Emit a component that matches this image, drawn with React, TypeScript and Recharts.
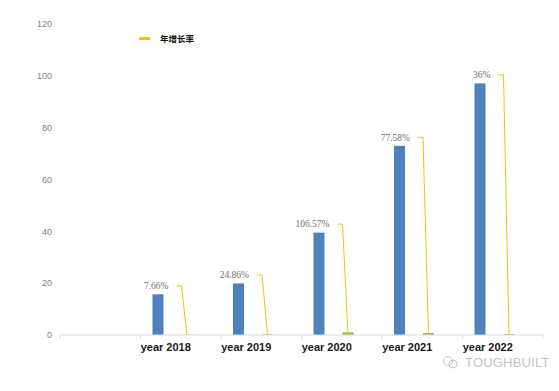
import React from "react";
import { BarChart, Bar, XAxis, YAxis, LabelList } from "recharts";

const categories = ["", "year 2018", "year 2019", "year 2020", "year 2021", "year 2022"];
const salesValues: (number | null)[] = [null, 15.7, 19.9, 39.5, 73.0, 97.1];
const growthValues: (number | null)[] = [null, 0.0766, 0.2486, 1.0657, 0.7758, 0.36];
const growthLabels: string[] = ["", "7.66%", "24.86%", "106.57%", "77.58%", "36%"];
const yTicks = [0, 20, 40, 60, 80, 100, 120];
const legendLabel = "年增长率";

const data = categories.map((c, i) => ({
  name: c,
  sales: salesValues[i],
  growth: growthValues[i],
  label: growthLabels[i],
}));

const W = 559;
const H = 391;
const MARGIN = { top: 24, right: 16, bottom: 26, left: 0 };
const Y_W = 60;
const BAND = (W - MARGIN.left - MARGIN.right - Y_W) / categories.length;
const BAR_SIZE = 11;
const BAR_GAP = 18;
const SHIFT = -8;

const BLUE = "#4f81bd";
const GREEN = "#9bbb59";
const YELLOW = "#f2c211";

const ShiftedBar = (props: any) => {
  const { x, y, width, height, fill } = props;
  if (x == null || height == null || isNaN(height)) return null;
  return <rect x={x + SHIFT} y={y} width={width} height={Math.max(height, 0)} fill={fill} />;
};

const GrowthLabel = (props: any) => {
  const { x, y, width, height, value } = props;
  const text = value;
  if (!text || x == null) return null;
  const bx = x + SHIFT;
  const right = bx + width;
  const ly = y - 8.5;
  const base = y + height;
  const greenCenter = right + BAR_GAP + BAR_SIZE / 2;
  return (
    <g>
      <text
        x={right + 5}
        y={ly}
        dy={3.3}
        textAnchor="end"
        fontFamily="'Liberation Serif', serif"
        fontSize={9.5}
        fill="#6f6f6f"
      >
        {text}
      </text>
      <polyline
        points={`${right + 13},${ly} ${right + 18},${ly} ${greenCenter},${base}`}
        fill="none"
        stroke={YELLOW}
        strokeWidth={1}
      />
    </g>
  );
};

const XTick = (props: any) => {
  const { x, y, payload, index } = props;
  const off = BAND / 2;
  const isLast = index === categories.length - 1;
  return (
    <g>
      <line x1={x - off} y1={y} x2={x - off} y2={y + 4} stroke="#d9d9d9" />
      {isLast && <line x1={x + off} y1={y} x2={x + off} y2={y + 4} stroke="#d9d9d9" />}
      <text
        x={x - 15}
        y={y}
        dy={16}
        textAnchor="middle"
        fontFamily="'Liberation Sans', Arial, sans-serif"
        fontSize={11}
        fontWeight={600}
        fill="#1a1a1a"
      >
        {payload.value}
      </text>
    </g>
  );
};

export default function App() {
  return (
    <div style={{ position: "absolute", left: 0, top: 0, width: W, height: H, background: "#fff" }}>
      <BarChart
        width={W}
        height={H}
        data={data}
        margin={MARGIN}
        barGap={BAR_GAP}
        barSize={BAR_SIZE}
      >
        <XAxis
          dataKey="name"
          height={30}
          axisLine={{ stroke: "#d9d9d9" }}
          tickLine={false}
          tickSize={0}
          tickMargin={0}
          interval={0}
          tick={<XTick />}
        />
        <YAxis
          width={Y_W}
          domain={[0, 120]}
          ticks={yTicks}
          axisLine={false}
          tickLine={false}
          tick={{ fill: "#7f7f7f", fontSize: 9, fontFamily: "'Liberation Sans', Arial, sans-serif" }}
        />
        <Bar dataKey="sales" fill={BLUE} isAnimationActive={false} shape={<ShiftedBar />}>
          <LabelList dataKey="label" content={<GrowthLabel />} />
        </Bar>
        <Bar dataKey="growth" fill={GREEN} isAnimationActive={false} shape={<ShiftedBar />} />
      </BarChart>
      <div
        style={{
          position: "absolute",
          left: 139,
          top: 31,
          display: "flex",
          alignItems: "center",
          height: 14,
        }}
      >
        <div style={{ width: 11, height: 3, background: "#ffc000" }} />
        <span
          style={{
            marginLeft: 10,
            fontFamily: "'Noto Sans CJK SC', sans-serif",
            fontSize: 8.5,
            fontWeight: 700,
            color: "#111",
            lineHeight: "14px",
          }}
        >
          {legendLabel}
        </span>
      </div>
      <div
        style={{
          position: "absolute",
          left: 442,
          top: 353,
          display: "flex",
          alignItems: "center",
          height: 18,
        }}
      >
        <svg width={18} height={16}>
          <circle cx={6} cy={7} r={4.5} fill="none" stroke="#c4c4c4" strokeWidth={1} />
          <circle cx={11} cy={10} r={4} fill="none" stroke="#c4c4c4" strokeWidth={1} />
        </svg>
        <span
          style={{
            marginLeft: 5,
            fontFamily: "'Liberation Sans', Arial, sans-serif",
            fontSize: 13,
            color: "#c4c4c4",
            letterSpacing: 0.2,
          }}
        >
          TOUGHBUILT
        </span>
      </div>
    </div>
  );
}
